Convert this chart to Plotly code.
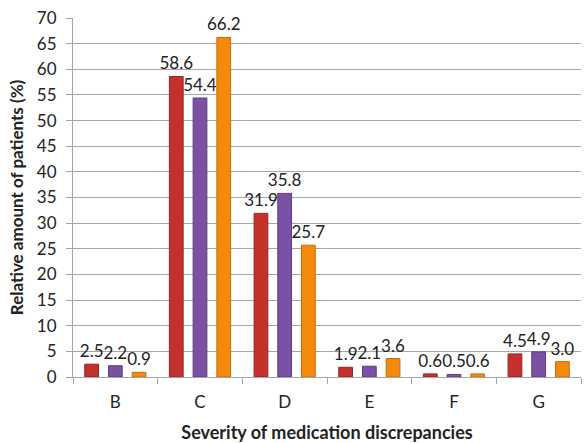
import plotly.graph_objects as go

categories = ["B", "C", "D", "E", "F", "G"]
series1 = [2.5, 58.6, 31.9, 1.9, 0.6, 4.5]
series2 = [2.2, 54.4, 35.8, 2.1, 0.5, 4.9]
series3 = [0.9, 66.2, 25.7, 3.6, 0.6, 3.0]
labels1 = ["2.5", "58.6", "31.9", "1.9", "0.6", "4.5"]
labels2 = ["2.2", "54.4", "35.8", "2.1", "0.5", "4.9"]
labels3 = ["0.9", "66.2", "25.7", "3.6", "0.6", "3.0"]
y_ticks = list(range(0, 75, 5))

colors = ["#C4302C", "#7B52A3", "#F38A0C"]
edges = ["#9E2422", "#5E3C82", "#C96E06"]

fig = go.Figure()
for vals, labs, c, e in zip([series1, series2, series3], [labels1, labels2, labels3], colors, edges):
    fig.add_trace(go.Bar(
        x=categories, y=vals, text=labs, textposition="outside",
        outsidetextfont=dict(size=17, color="#222222"),
        textfont=dict(size=17, color="#222222"),
        marker=dict(color=c, line=dict(color=e, width=1)),
        cliponaxis=False, showlegend=False,
    ))

font = "Lato, 'Open Sans', sans-serif"
fig.update_layout(
    width=584, height=443,
    margin=dict(l=73, r=3, t=18, b=66),
    paper_bgcolor="white", plot_bgcolor="white",
    barmode="group", bargap=0.16, bargroupgap=0.42,
    font=dict(family=font, color="#222222"),
    uniformtext=dict(mode="show", minsize=17),
)
fig.update_yaxes(
    range=[0, 70], tickvals=y_ticks, showgrid=True, gridcolor="#A6A6A6", gridwidth=1,
    showline=True, linecolor="#A6A6A6", ticks="outside", ticklen=6, tickcolor="#A6A6A6",
    tickfont=dict(size=17, color="#222222"), automargin=False, ticklabelstandoff=6,
    title=dict(text="<b>Relative amount of patients (%)</b>", font=dict(size=17), standoff=8),
    zeroline=False,
)
fig.update_xaxes(
    showline=True, linecolor="#A6A6A6", ticks="outside", tickson="boundaries", ticklen=6,
    tickcolor="#A6A6A6", tickfont=dict(size=17, color="#222222"), automargin=False,
    ticklabelstandoff=10,
    title=dict(text="<b>Severity of medication discrepancies</b>", font=dict(size=18), standoff=14),
)
fig.write_html("out.html", config={"displayModeBar": False},
               post_script="document.body.style.margin='0';document.body.style.overflow='hidden';")
